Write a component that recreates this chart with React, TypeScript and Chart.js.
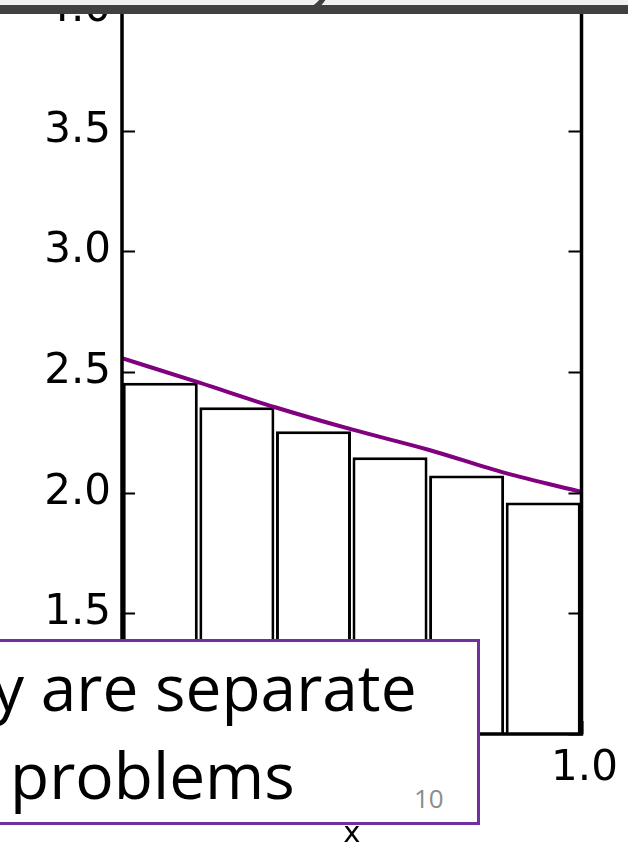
import { useEffect, useRef } from 'react';
import { Chart, registerables } from 'chart.js';

Chart.register(...registerables);

// Rectangle heights over each sixth of [0, 1]
const binMids = [0.0833, 0.25, 0.4167, 0.5833, 0.75, 0.9167];
const barHeights = [2.455, 2.354, 2.255, 2.147, 2.071, 1.959];

// Sampled curve f(x)
const curveX = [0, 0.1667, 0.3333, 0.5, 0.6667, 0.8333, 1.0];
const curveY = [2.557, 2.457, 2.354, 2.262, 2.178, 2.082, 2.003];

const yTicks = [1.0, 1.5, 2.0, 2.5, 3.0, 3.5, 4.0];
const xTicks = [0.0, 0.5, 1.0];
const xTitle = 'x';

const calloutLines = ['y are separate', 'problems'];
const slideNumber = '10';

const TICK_FONT = { family: 'DejaVu Sans', size: 42 };

// Matplotlib-style frame: four spines, inward tick marks on both y sides and the bottom
const framePlugin = {
  id: 'frame',
  afterDatasetsDraw(chart: any) {
    const { ctx, chartArea: a, scales } = chart;
    const len = 13;
    ctx.save();
    ctx.strokeStyle = '#000';
    ctx.lineWidth = 2;
    ctx.beginPath();
    for (const t of scales.y.ticks) {
      const py = Math.round(scales.y.getPixelForValue(t.value)) + 0.5;
      ctx.moveTo(a.left, py);
      ctx.lineTo(a.left + len, py);
      ctx.moveTo(a.right - len, py);
      ctx.lineTo(a.right, py);
    }
    for (const t of scales.x.ticks) {
      const px = Math.round(scales.x.getPixelForValue(t.value)) + 0.5;
      ctx.moveTo(px, a.bottom);
      ctx.lineTo(px, a.bottom - len);
    }
    ctx.stroke();
    ctx.lineWidth = 3.5;
    ctx.strokeRect(a.left, a.top, a.right - a.left, a.bottom - a.top);
    ctx.restore();
  },
};

function RiemannChart() {
  const ref = useRef<HTMLCanvasElement>(null);

  useEffect(() => {
    if (!ref.current) return;
    const chart = new Chart(ref.current, {
      type: 'bar',
      data: {
        datasets: [
          {
            type: 'line',
            data: curveX.map((x, i) => ({ x, y: curveY[i] })),
            borderColor: '#800080',
            borderWidth: 4,
            pointRadius: 0,
            cubicInterpolationMode: 'monotone',
            order: 0,
          } as any,
          {
            type: 'bar',
            data: binMids.map((x, i) => ({ x, y: barHeights[i] })),
            backgroundColor: '#ffffff',
            borderColor: '#000000',
            borderWidth: 3,
            base: 1,
            barPercentage: 0.98,
            categoryPercentage: 1,
            clip: 0,
            order: 1,
          } as any,
        ],
      },
      options: {
        animation: false,
        responsive: false,
        devicePixelRatio: 1,
        layout: { padding: { left: 0, right: 46.5, top: 10, bottom: 0 } },
        plugins: { legend: { display: false }, tooltip: { enabled: false } },
        scales: {
          x: {
            type: 'linear',
            min: 0,
            max: 1,
            offset: false,
            grid: { display: false, drawTicks: false },
            border: { display: false },
            afterBuildTicks: (s: any) => {
              s.ticks = xTicks.map((v) => ({ value: v }));
            },
            afterFit: (s: any) => {
              s.height = 111;
              s.paddingLeft = 0;
              s.paddingRight = 0;
            },
            ticks: {
              autoSkip: false,
              maxRotation: 0,
              padding: 10,
              labelOffset: 3,
              color: '#000',
              font: TICK_FONT,
              callback: (v: any) => Number(v).toFixed(1),
            },
            title: {
              display: true,
              text: xTitle,
              color: '#000',
              font: { family: 'DejaVu Sans', size: 29 },
              padding: { top: 0, bottom: -7 },
            },
          },
          y: {
            type: 'linear',
            min: 1,
            max: 4,
            grid: { display: false, drawTicks: false },
            border: { display: false },
            afterBuildTicks: (s: any) => {
              s.ticks = yTicks.map((v) => ({ value: v }));
            },
            afterFit: (s: any) => {
              s.width = 122;
              s.paddingTop = 0;
              s.paddingBottom = 0;
            },
            ticks: {
              padding: 11,
              color: '#000',
              font: TICK_FONT,
              callback: (v: any) => Number(v).toFixed(1),
            },
          },
        },
      },
      plugins: [framePlugin],
    });
    return () => chart.destroy();
  }, []);

  return <canvas ref={ref} width={628} height={845} style={{ display: 'block' }} />;
}

export default function App() {
  return (
    <div
      style={{
        position: 'absolute',
        left: 0,
        top: 0,
        width: 628,
        height: 845,
        overflow: 'hidden',
        background: '#fff',
      }}
    >
      <RiemannChart />

      {/* window bar along the top edge */}
      <div style={{ position: 'absolute', left: 0, top: 0, width: 628, height: 6, background: '#f0f0f0' }} />
      <div style={{ position: 'absolute', left: 0, top: 5, width: 628, height: 9, background: '#404040' }} />
      <div
        style={{
          position: 'absolute',
          left: 230,
          top: -46,
          width: 100,
          height: 60,
          boxSizing: 'border-box',
          borderRight: '5px solid #404040',
          borderBottom: '5px solid #404040',
          borderBottomRightRadius: 30,
        }}
      />

      {/* callout box */}
      <div
        style={{
          position: 'absolute',
          left: -3,
          top: 639,
          width: 483,
          height: 186,
          boxSizing: 'border-box',
          border: '3px solid #7030a0',
          background: '#fff',
        }}
      />
      <div
        style={{
          position: 'absolute',
          left: -8,
          top: 655,
          fontFamily: '"Open Sans", sans-serif',
          fontSize: 64,
          lineHeight: 1,
          color: '#000',
          whiteSpace: 'nowrap',
        }}
      >
        {calloutLines[0]}
      </div>
      <div
        style={{
          position: 'absolute',
          left: 10,
          top: 743,
          fontFamily: '"Open Sans", sans-serif',
          fontSize: 64,
          lineHeight: 1,
          color: '#000',
          whiteSpace: 'nowrap',
        }}
      >
        {calloutLines[1]}
      </div>
      <div
        style={{
          position: 'absolute',
          left: 414,
          top: 785,
          fontFamily: '"Open Sans", sans-serif',
          fontSize: 26,
          lineHeight: 1,
          color: '#8c8c8c',
        }}
      >
        {slideNumber}
      </div>
    </div>
  );
}
